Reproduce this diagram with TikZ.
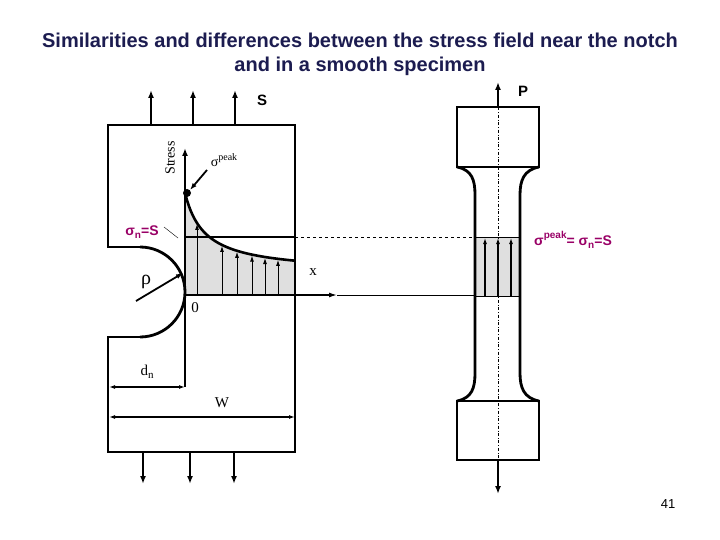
\documentclass[tikz,border=0pt]{standalone}
\usepackage{amsmath}
\usepackage{fontspec}
\setmainfont{Liberation Serif}
\setsansfont{Liberation Sans}
\usetikzlibrary{arrows.meta}
\definecolor{ttl}{HTML}{1C1C50}
\definecolor{pur}{HTML}{990066}
\tikzset{thick line/.style={line width=2.8pt},
  ldarrow/.style={line width=2.2pt,-{Latex[length=8pt,width=6pt]}},
  thinarrow/.style={line width=1.4pt,-{Latex[length=8pt,width=5pt]}},
  lbl/.style={inner sep=1pt},
  purlbl/.style={text=pur,font=\sffamily\bfseries\fontsize{14}{16}\selectfont,inner sep=1pt}}
\begin{document}
\begin{tikzpicture}[x=1pt,y=-1pt,declare function={cv(\x)=273-80+80*(1-20/(\x-185+20));}]
\useasboundingbox (0,0) rectangle (720,540);
\node[text=ttl,font=\sffamily\bfseries\fontsize{20}{24}\selectfont,align=center] (title) at (360,54) {Similarities and differences between the stress field near the notch\\and in a smooth specimen};
\node[font=\sffamily\fontsize{13}{15}\selectfont] (pg) at (668,504) {41};
% shaded stress field
\fill[gray!25] (185,295) -- plot[domain=185:295,samples=50] (\x,{cv(\x)}) -- (295,295) -- cycle;
% plate
\draw[thick line] (140,247) -- (108,247) -- (108,125) -- (295,125) -- (295,452) -- (108,452) -- (108,337) -- (140,337);
\draw[thick line] (140,247) arc (-90:90:45);
% top/bottom arrows
\foreach \x/\n in {151/a,193/b,235/c}{\coordinate (t\n) at (\x,125); \coordinate (tt\n) at (\x,90); \draw[ldarrow] (t\n) -- (tt\n);}
\foreach \x/\n in {143/a,190/b,234/c}{\coordinate (b\n) at (\x,452); \coordinate (bb\n) at (\x,484); \draw[ldarrow] (b\n) -- (bb\n);}
\node[font=\sffamily\bfseries\fontsize{15}{17}\selectfont] (S) at (262,100) {S};
% axes
\coordinate (o) at (185,295);
\coordinate (ytop) at (185,148);
\coordinate (xend) at (337,295);
\coordinate (yb) at (185,387);
\draw[ldarrow] (o) -- (ytop);
\draw[line width=2.2pt] (o) -- (yb);
\draw[line width=2.2pt] (o) -- (295,295);
\draw[thinarrow] (295,295) -- (xend);
\draw (xend) -- (475,295);
% curve
\draw[line width=2.6pt] plot[domain=185:295,samples=60] (\x,{cv(\x)});
\draw[line width=2.6pt] (185,237) -- (295,237);
\draw[dashed] (295,237) -- (475,237);
\foreach \x in {197,222,237,252,265,278}{
  \draw[line width=0.9pt,-{Latex[length=6pt,width=4pt]}] (\x,295) -- (\x,{cv(\x)+1});}
\fill (187,193) circle (4);
\node[lbl,font=\fontsize{14}{16}\selectfont] (pk) at (224,160) {σ\raisebox{1ex}{\fontsize{10}{12}\selectfont peak}};
\coordinate (pka) at (207,170);
\draw[line width=1.8pt,-{Latex[length=7pt,width=5pt]}] (pka) -- (190,190);
\node[lbl,rotate=90,font=\fontsize{14}{16}\selectfont] (stress) at (170,158) {Stress};
\node[purlbl] (sn) at (142,232) {σ\raisebox{-0.4ex}{\fontsize{10}{12}\selectfont n}=S};
\draw (164,227) -- (178,238);
\node[lbl,font=\fontsize{20}{22}\selectfont] (rho) at (146,282) {ρ};
\coordinate (rs) at (136,301);
\draw[line width=1.8pt,-{Latex[length=7pt,width=5pt]}] (rs) -- (183,273);
\node[lbl,font=\fontsize{15}{17}\selectfont] (xl) at (313,272) {x};
\node[lbl,font=\fontsize{15}{17}\selectfont] (zero) at (195,308) {0};
% dimensions
\draw[line width=1.4pt,{Latex[length=6pt,width=4pt]}-{Latex[length=6pt,width=4pt]}] (109,387) -- (185,387);
\draw[line width=1.4pt,{Latex[length=6pt,width=4pt]}-{Latex[length=6pt,width=4pt]}] (109,417) -- (295,417);
\node[lbl,font=\fontsize{15}{17}\selectfont] (dn) at (147,372) {d\raisebox{-0.5ex}{\fontsize{11}{12}\selectfont n}};
\node[lbl,font=\fontsize{15}{17}\selectfont] (W) at (222,403) {W};
% specimen
\fill[gray!25] (475,237) rectangle (520,296);
\draw[thick line] (457,107) rectangle (539,167);
\draw[thick line] (457,401) rectangle (539,460);
\draw[thick line] (457,167) .. controls (472,170) and (475,180) .. (475,195) -- (475,373) .. controls (475,388) and (472,398) .. (457,401);
\draw[thick line] (539,167) .. controls (524,170) and (520,180) .. (520,195) -- (520,373) .. controls (520,388) and (524,398) .. (539,401);
\draw (475,237) -- (520,237);
\draw (475,296) -- (520,296);
\draw[dash dot] (498,100) -- (498,470);
\foreach \x in {485,498,511}{\draw[line width=1.1pt,-{Latex[length=6pt,width=4pt]}] (\x,296) -- (\x,238);}
\draw[ldarrow] (498,107) -- (498,82);
\draw[ldarrow] (498,460) -- (498,494);
\node[font=\sffamily\bfseries\fontsize{15}{17}\selectfont] (P) at (523,91) {P};
\node[purlbl,anchor=west] (rl) at (533,240) {σ\raisebox{1ex}{\fontsize{10}{12}\selectfont peak}= σ\raisebox{-0.4ex}{\fontsize{10}{12}\selectfont n}=S};
\end{tikzpicture}
\end{document}
